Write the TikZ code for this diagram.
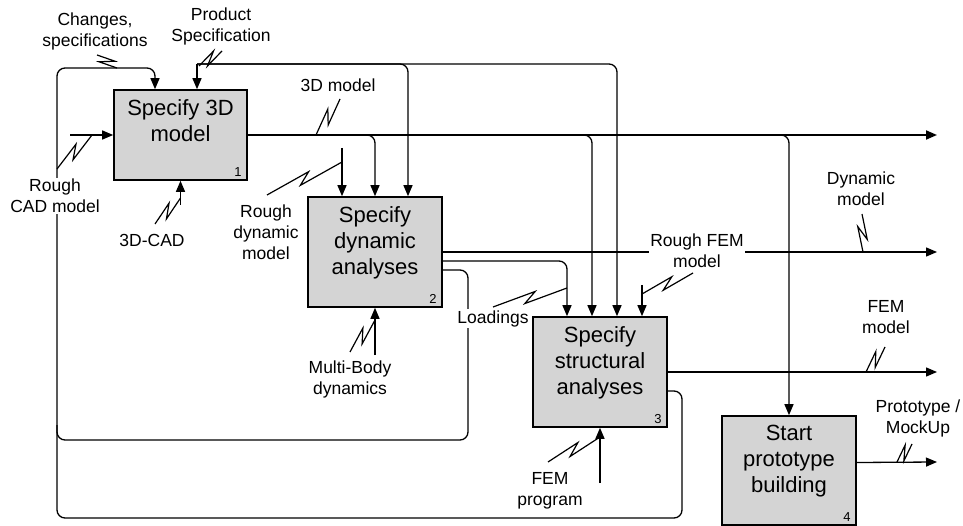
\documentclass[tikz,border=0pt]{standalone}
\usepackage{fontspec}
\setmainfont{Liberation Sans}
\usetikzlibrary{arrows.meta,calc}
\definecolor{boxgray}{RGB}{212,212,212}

\begin{document}
\begin{tikzpicture}[x=1pt,y=-1pt,
  box/.style={draw=black, line width=1.6pt, fill=boxgray, inner sep=0pt,
              minimum width=134pt, minimum height=110pt},
  conn/.style={line width=1.3pt, rounded corners=8pt},
  main3d/.style={line width=1.8pt},
  arr/.style={-{Triangle[length=11pt,width=9pt]}},
  squig/.style={line width=1.2pt, to path={
      -- ($(\tikztostart)!0.5!(\tikztotarget)!8pt!35:(\tikztotarget)$)
      -- ($(\tikztostart)!0.5!(\tikztotarget)!8pt!215:(\tikztotarget)$)
      -- (\tikztotarget)}},
  lbl/.style={font=\fontsize{17.5}{21}\selectfont, align=center, inner sep=1pt},
  wlbl/.style={lbl, fill=white},
  boxtxt/.style={font=\fontsize{22}{26}\selectfont, align=center, inner sep=0pt, anchor=north},
  num/.style={font=\fontsize{13}{15}\selectfont, inner sep=0pt, anchor=south east}]

\useasboundingbox (0,0) rectangle (963,526);

% activity boxes
\node[box, minimum width=133pt, minimum height=90pt] (b1) at (180.5,135) {};
\node[box] (b2) at (375,252) {};
\node[box] (b3) at (600,372) {};
\node[box, minimum height=109pt] (b4) at (789,470.5) {};

\node[boxtxt] (t1) at ([yshift=-10pt]b1.north) {Specify 3D\\model};
\node[boxtxt] (t2) at ([yshift=-10pt]b2.north) {Specify\\dynamic\\analyses};
\node[boxtxt] (t3) at ([yshift=-10pt]b3.north) {Specify\\structural\\analyses};
\node[boxtxt] (t4) at ([yshift=-10pt]b4.north) {Start\\prototype\\building};

\node[num] (n1) at ([xshift=-6pt,yshift=4pt]b1.south east) {1};
\node[num] (n2) at ([xshift=-6pt,yshift=4pt]b2.south east) {2};
\node[num] (n3) at ([xshift=-6pt,yshift=4pt]b3.south east) {3};
\node[num] (n4) at ([xshift=-6pt,yshift=4pt]b4.south east) {4};

% free ends and junctions
\coordinate (ps)    at (197,64);
\coordinate (out1)  at (937,135);
\coordinate (out2)  at (937,252);
\coordinate (out3)  at (937,372);
\coordinate (out4)  at (937,462);
\coordinate (rcadS) at (70,135);
\coordinate (cadS)  at (180.5,205);
\coordinate (rdS)   at (342,148);
\coordinate (mbS)   at (375,355);
\coordinate (rfS)   at (642,285);
\coordinate (fpS)   at (600,483);

% product specification feeds
\draw[conn,arr] (ps) -- (ps |- b1.north);
\draw[conn,arr] (ps) -| ([xshift=33pt]b2.north);
\draw[conn,arr] (ps) -| ([xshift=17pt]b3.north);

% 3D model output and its branches
\draw[main3d,arr] (b1.east) -- (out1);
\draw[conn,arr] (b1.east) -| (b2.north);
\draw[conn,arr] (b1.east) -| ([xshift=-8pt]b3.north);
\draw[conn,arr] (b1.east) -| (b4.north);

% outputs of dynamic analyses
\draw[conn,arr] (b2.east) -- (out2);
\draw[conn,arr] ([yshift=-9pt]b2.east) -| ([xshift=-33pt]b3.north);
\draw[conn,arr] ([yshift=-18pt]b2.east) -| (468,440) -| (57,68) -| ([xshift=-25.5pt]b1.north);

% outputs of structural analyses
\draw[conn,arr] (b3.east) -- (out3);
\draw[conn] ([yshift=-19pt]b3.east) -| (682,518) -| (57,425);

% prototype output
\draw[conn,arr] ([yshift=8pt]b4.east) -- (out4);

% inputs and mechanisms
\draw[conn,arr] (rcadS) -- (b1.west);
\draw[conn,arr] (cadS) -- (b1.south);
\draw[conn,arr] (rdS) -- ([xshift=-33pt]b2.north);
\draw[conn,arr] (mbS) -- (b2.south);
\draw[conn,arr] (rfS) -- ([xshift=42pt]b3.north);
\draw[conn,arr] (fpS) -- (b3.south);

% labels
\node[lbl]  (chg)   at (95,31)    {Changes,\\specifications};
\node[lbl]  (prod)  at (221,26.5) {Product\\Specification};
\node[lbl]  (m3d)   at (338,85.5) {3D model};
\node[wlbl] (rcad)  at (55,196)   {Rough\\CAD model};
\node[lbl]  (cad)   at (152,240.5){3D-CAD};
\node[lbl]  (rdm)   at (266,232.5){Rough\\dynamic\\model};
\node[lbl]  (mbd)   at (350,379)  {Multi-Body\\dynamics};
\node[wlbl] (load)  at (493,318.5){Loadings};
\node[wlbl] (rfem)  at (697,251)  {Rough FEM\\model};
\node[lbl]  (fprog) at (550,491)  {FEM\\program};
\node[lbl]  (dyn)   at (861,189)  {Dynamic\\model};
\node[lbl]  (femm)  at (886,317)  {FEM\\model};
\node[lbl]  (proto) at (918,418)  {Prototype /\\MockUp};

% squiggles tying labels to their arrows
\coordinate (q1a) at (97,55);   \coordinate (q1b) at (117,68);
\coordinate (q2a) at (222,51);  \coordinate (q2b) at (199,66);
\coordinate (q3a) at (340,99);  \coordinate (q3b) at (316,135);
\coordinate (q4a) at (57,169);  \coordinate (q4b) at (92,135);
\coordinate (q5a) at (155,224); \coordinate (q5b) at (180.5,198);
\coordinate (q6a) at (267,195); \coordinate (q6b) at (342,162);
\coordinate (q7a) at (350,352); \coordinate (q7b) at (375,320);
\coordinate (q8a) at (493,307); \coordinate (q8b) at (567,288);
\coordinate (q9a) at (693,273); \coordinate (q9b) at (642,294);
\coordinate (q10a) at (548,462); \coordinate (q10b) at (600,437);
\coordinate (q11a) at (862,214); \coordinate (q11b) at (863,252);
\coordinate (q12a) at (885,347); \coordinate (q12b) at (866,372);
\coordinate (q13a) at (912,444); \coordinate (q13b) at (897,462);

\foreach \s in {1,...,13}
  \draw[squig] (q\s a) to (q\s b);

\end{tikzpicture}
\end{document}
